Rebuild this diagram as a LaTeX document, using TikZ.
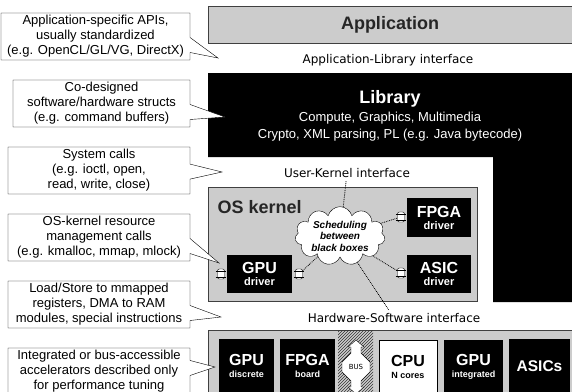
\documentclass[tikz,border=0pt]{standalone}
\usepackage{fontspec}
\setmainfont{Liberation Sans}
\newfontfamily\ifacefont{DejaVu Sans}
\usetikzlibrary{shapes.callouts,shapes.symbols,patterns}

\begin{document}
\begin{tikzpicture}[x=1pt,y=-1pt,node distance=67pt,
    note node/.style={rectangle callout,draw,fill=white,align=center,inner sep=1pt,minimum height=47pt,callout pointer width=15pt,font=\fontsize{13}{15}\selectfont},
    iface node/.style={font=\ifacefont\fontsize{12}{14}\selectfont},
    layer/.style={fill=gray!40,draw=black!75},
    driver node/.style={fill=black,text=white,font=\bfseries,align=center,minimum width=65pt,minimum height=38pt,inner sep=0pt},
    chip node/.style={fill=black,text=white,font=\bfseries,align=center,minimum width=55pt,minimum height=54pt,inner sep=0pt},
    plug/.style={draw,fill=white,rounded corners=2pt,minimum width=7pt,minimum height=10pt,inner sep=0pt},
    sched/.style={densely dotted,thick}]
  \useasboundingbox (0,0) rectangle (572,391);
  \clip (0,0) rectangle (572,391);

  % software layers
  \draw[layer] (208,6) rectangle (580,43);
  \node[font=\fontsize{18}{20}\selectfont\bfseries,text=black!85] (app) at (390,25) {Application};
  \node[iface node] (al) at (388,60) {Application-Library interface};
  \fill (208,73) -- (580,73) -- (580,302) -- (493,302) -- (493,157) -- (208,157) -- cycle;
  \node[text=white,align=center,font=\fontsize{13}{17}\selectfont] (lib) at (390,116)
    {{\fontsize{18}{20}\selectfont\bfseries Library}\\[1pt]Compute, Graphics, Multimedia\\Crypto, XML parsing, PL (e.g. Java bytecode)};
  \node[iface node] (uk) at (347,173) {User-Kernel interface};

  % kernel
  \draw[layer] (208,187) rectangle (477,301);
  \node[anchor=west,font=\fontsize{18}{20}\selectfont\bfseries,text=black!85] (os) at (214,207) {OS kernel};
  \node[driver node] (gpudrv) at (259.5,274) {{\fontsize{16}{16}\selectfont GPU}\\{\fontsize{11}{12}\selectfont driver}};
  \node[driver node,minimum width=64pt,minimum height=39pt] (fpgadrv) at (439,217.5) {{\fontsize{16}{16}\selectfont FPGA}\\{\fontsize{11}{12}\selectfont driver}};
  \node[driver node,minimum width=64pt] (asicdrv) at (439,274) {{\fontsize{16}{16}\selectfont ASIC}\\{\fontsize{11}{12}\selectfont driver}};
  \node[plug] (p1) at (221,274) {};
  \node[plug] (p2) at (299,274) {};
  \node[plug] (p3) at (401,217) {};
  \node[plug] (p4) at (401,273) {};
  \foreach \p in {p1,p2,p3,p4} {
    \draw ([xshift=-1.5pt,yshift=-2pt]\p.north west) -- ([xshift=1.5pt,yshift=-2pt]\p.north east);
    \draw ([xshift=-1.5pt,yshift=2pt]\p.south west) -- ([xshift=1.5pt,yshift=2pt]\p.south east);
  }
  \node[cloud,draw,fill=white,cloud puffs=11,cloud ignores aspect,minimum width=90pt,minimum height=45pt,inner sep=0pt,align=center,font=\fontsize{10}{11.5}\selectfont\bfseries\itshape] (cloud) at (340,236) {Scheduling\\between\\black boxes};
  \node[iface node] (hs) at (394,318) {Hardware-Software interface};

  \draw[sched] (uk) -- (cloud);
  \draw[sched] (cloud) -- (p2);
  \draw[sched] (cloud) -- (p3);
  \draw[sched] (cloud) -- (p4);
  \draw[sched] (cloud) -- (hs);

  % hardware
  \draw[layer] (208,330) rectangle (580,400);
  \node[chip node] (gpud) at (246.5,366) {{\fontsize{16}{17}\selectfont GPU}\\{\fontsize{9}{10}\selectfont discrete}};
  \node[chip node] (fpgab) at (307.5,366) {{\fontsize{16}{17}\selectfont FPGA}\\{\fontsize{9}{10}\selectfont board}};
  \node[minimum width=35pt,minimum height=72pt,inner sep=0pt,pattern=north east lines,pattern color=black!80] (hatch) at (355.5,366) {};
  \draw[fill=white] (356,340) -- (364,347) -- (361,347) -- (361,353) -- (370,362) -- (370,372) -- (361,381) -- (361,387) -- (364,387) -- (356,394) -- (348,387) -- (351,387) -- (351,381) -- (342,372) -- (342,362) -- (351,353) -- (351,347) -- (348,347) -- cycle;
  \node[font=\ifacefont\fontsize{7}{8}\selectfont] (bus) at (356,367) {BUS};
  \node[chip node,fill=white,text=black,draw,minimum width=58pt] (cpu) at (408,367) {{\fontsize{16}{17}\selectfont CPU}\\{\fontsize{9}{10}\selectfont N cores}};
  \node[chip node,minimum width=59pt] (gpui) at (473.5,367) {{\fontsize{16}{17}\selectfont GPU}\\{\fontsize{9}{10}\selectfont integrated}};
  \node[chip node,minimum width=61pt,font=\bfseries\fontsize{15.5}{16}\selectfont] (asics) at (539.5,366) {ASICs};

  % notes
  \coordinate (t1) at (218,58);
  \coordinate (t2) at (225,117);
  \coordinate (t3) at (222,172);
  \coordinate (t4) at (219,263);
  \coordinate (t5) at (221,317);
  \coordinate (t6) at (215,367);
  \node[note node,minimum width=189pt,callout absolute pointer={(t1)}] (1) at (95.5,36.5) {Application-specific APIs,\\usually standardized\\(e.g. OpenCL/GL/VG, DirectX)};
  \node[note node,minimum width=177pt,callout absolute pointer={(t2)}] (2) [below of=1,xshift=6pt] {Co-designed\\software/hardware structs\\(e.g. command buffers)};
  \node[note node,minimum width=182pt,callout absolute pointer={(t3)}] (3) [below of=2,xshift=-2.5pt] {System calls\\(e.g. ioctl, open,\\read, write, close)};
  \node[note node,minimum width=182pt,callout absolute pointer={(t4)}] (4) [below of=3] {OS-kernel resource\\management calls\\(e.g. kmalloc, mmap, mlock)};
  \node[note node,minimum width=182pt,callout absolute pointer={(t5)}] (5) [below of=4] {Load/Store to mmapped\\registers, DMA to RAM\\modules, special instructions};
  \node[note node,minimum width=182pt,callout absolute pointer={(t6)}] (6) [below of=5] {Integrated or bus-accessible\\accelerators described only\\for performance tuning};
\end{tikzpicture}
\end{document}
